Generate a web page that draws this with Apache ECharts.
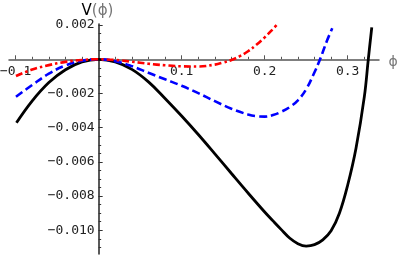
<!DOCTYPE html>
<html>
<head>
<meta charset="utf-8">
<script src="https://cdn.jsdelivr.net/npm/echarts@6/dist/echarts.min.js"></script>
<style>html,body{margin:0;padding:0;background:#fff}#c{width:399px;height:256px}</style>
</head>
<body>
<div id="c"></div>
<script>
// Data: [phi, V(phi)]
const blackCurve = [
  [-0.099, -0.00371], [-0.08, -0.00243], [-0.06, -0.00136], [-0.04, -0.00061], [-0.02, -0.00015],
  [0, 0], [0.02, -0.00015], [0.04, -0.00059], [0.06, -0.00132], [0.08, -0.00229],
  [0.10, -0.00332], [0.12, -0.00440], [0.14, -0.00553], [0.16, -0.00668], [0.18, -0.00782],
  [0.20, -0.00893], [0.21, -0.00945], [0.22, -0.00996], [0.23, -0.01045], [0.24, -0.01078],
  [0.25, -0.01092], [0.26, -0.01084], [0.27, -0.01056], [0.28, -0.01003], [0.29, -0.00900],
  [0.30, -0.00735], [0.31, -0.00520], [0.32, -0.00220], [0.3248, 0], [0.329, 0.00187]
];
const blueCurve = [
  [-0.0996, -0.00219], [-0.08, -0.00150], [-0.06, -0.00084], [-0.04, -0.00036], [-0.02, -0.00009],
  [0, 0], [0.02, -0.00011], [0.04, -0.00040], [0.06, -0.00079], [0.08, -0.00117],
  [0.10, -0.00155], [0.12, -0.00198], [0.14, -0.00245], [0.16, -0.00289], [0.18, -0.00323],
  [0.19, -0.00333], [0.20, -0.00335], [0.21, -0.00326], [0.22, -0.00307], [0.23, -0.00280],
  [0.24, -0.00240], [0.25, -0.00175], [0.26, -0.00076], [0.2667, 0], [0.275, 0.00108], [0.2814, 0.00181]
];
const redCurve = [
  [-0.0996, -0.00098], [-0.08, -0.00060], [-0.06, -0.00034], [-0.04, -0.00015], [-0.02, -0.00004],
  [0, 0], [0.02, -0.00004], [0.04, -0.00014], [0.06, -0.00026], [0.08, -0.00035],
  [0.10, -0.00041], [0.12, -0.00042], [0.14, -0.00031], [0.15, -0.00019], [0.16, -0.00004],
  [0.17, 0.00018], [0.18, 0.00047], [0.19, 0.00085], [0.20, 0.00128], [0.21, 0.00177], [0.2145, 0.00201]
];
const xMajorTicks = [-0.1, 0.1, 0.2, 0.3];
const xLabels = [-0.1, 0.1, 0.2, 0.3];
const xMinorTicks = [-0.1, -0.08, -0.06, -0.04, -0.02, 0.02, 0.04, 0.06, 0.08, 0.1, 0.12, 0.14, 0.16, 0.18, 0.2, 0.22, 0.24, 0.26, 0.28, 0.3, 0.32];
const yMajorTicks = [-0.010, -0.008, -0.006, -0.004, -0.002, 0.002];
const yLabels = [-0.010, -0.008, -0.006, -0.004, -0.002, 0.002];
const yMinorTicks = [-0.011, -0.0105, -0.01, -0.0095, -0.009, -0.0085, -0.008, -0.0075, -0.007, -0.0065, -0.006, -0.0055, -0.005, -0.0045, -0.004, -0.0035, -0.003, -0.0025, -0.002, -0.0015, -0.001, -0.0005, 0.0005, 0.001, 0.0015, 0.002];

const xMin = -0.108, xMax = 0.3377, yMin = -0.011386, yMax = 0.002064;
const G = {left: 9, right: 20, top: 24, bottom: 2};
const W = 399 - G.left - G.right, H = 256 - G.top - G.bottom;
// place the axes where the other axis is zero (crossing axes)
const yAxisOffset = -((0 - xMin) / (xMax - xMin) * W);
const xAxisOffset = -((0 - yMin) / (yMax - yMin) * H);
const monoFont = 'DejaVu Sans Mono';
const fmt = (d) => (v) => (v < 0 ? '\u2212' : '') + Math.abs(v).toFixed(d);

const chart = echarts.init(document.getElementById('c'), null, {renderer: 'canvas'});
chart.setOption({
  animation: false,
  grid: {left: G.left, right: G.right, top: G.top, bottom: G.bottom, containLabel: false, outerBoundsMode: 'none'},
  xAxis: [{
    type: 'value', min: xMin, max: xMax, position: 'bottom', offset: xAxisOffset,
    axisLine: {show: true, onZero: false, lineStyle: {color: '#555', width: 1.5}},
    axisTick: {show: true, inside: true, length: 4, customValues: xMajorTicks, lineStyle: {color: '#555', width: 1}},
    axisLabel: {show: true, customValues: xLabels, formatter: fmt(1), margin: 6, color: '#222', fontFamily: monoFont, fontSize: 13},
    splitLine: {show: false}
  }, {
    type: 'value', min: xMin, max: xMax, position: 'bottom', offset: xAxisOffset,
    axisLine: {show: false, onZero: false},
    axisTick: {show: true, inside: true, length: 2.5, customValues: xMinorTicks, lineStyle: {color: '#555', width: 1}},
    axisLabel: {show: false},
    splitLine: {show: false}
  }],
  yAxis: [{
    type: 'value', min: yMin, max: yMax, position: 'left', offset: yAxisOffset,
    axisLine: {show: true, onZero: false, lineStyle: {color: '#222', width: 1.5}},
    axisTick: {show: true, inside: true, length: 4, customValues: yMajorTicks, lineStyle: {color: '#333', width: 1}},
    axisLabel: {show: true, customValues: yLabels, formatter: fmt(3), margin: 4, color: '#222', fontFamily: monoFont, fontSize: 13},
    splitLine: {show: false}
  }, {
    type: 'value', min: yMin, max: yMax, position: 'left', offset: yAxisOffset,
    axisLine: {show: false, onZero: false},
    axisTick: {show: true, inside: true, length: 2.5, customValues: yMinorTicks, lineStyle: {color: '#333', width: 1}},
    axisLabel: {show: false},
    splitLine: {show: false}
  }],
  series: [{
    type: 'line', data: blackCurve, smooth: 0.4, showSymbol: false,
    lineStyle: {color: '#000', width: 2.8}
  }, {
    type: 'line', data: blueCurve, smooth: 0.4, showSymbol: false,
    lineStyle: {color: '#0000ff', width: 2.6, type: [8, 4]}
  }, {
    type: 'line', data: redCurve, smooth: 0.4, showSymbol: false,
    lineStyle: {color: '#ff0000', width: 2.6, type: [7, 3, 2.5, 3]}
  }],
  graphic: [{
    type: 'text', x: 97.5, y: 11,
    style: {
      text: '{v|V}{p|(\u03D5)}', align: 'center', verticalAlign: 'middle',
      rich: {
        v: {fontFamily: 'DejaVu Sans', fontSize: 15, fill: '#000'},
        p: {fontFamily: 'DejaVu Sans', fontSize: 15, fill: '#777'}
      }
    }
  }, {
    type: 'text', x: 393, y: 62,
    style: {text: '\u03D5', align: 'center', verticalAlign: 'middle', fontFamily: 'DejaVu Sans', fontSize: 14, fill: '#777'}
  }]
});
</script>
</body>
</html>
